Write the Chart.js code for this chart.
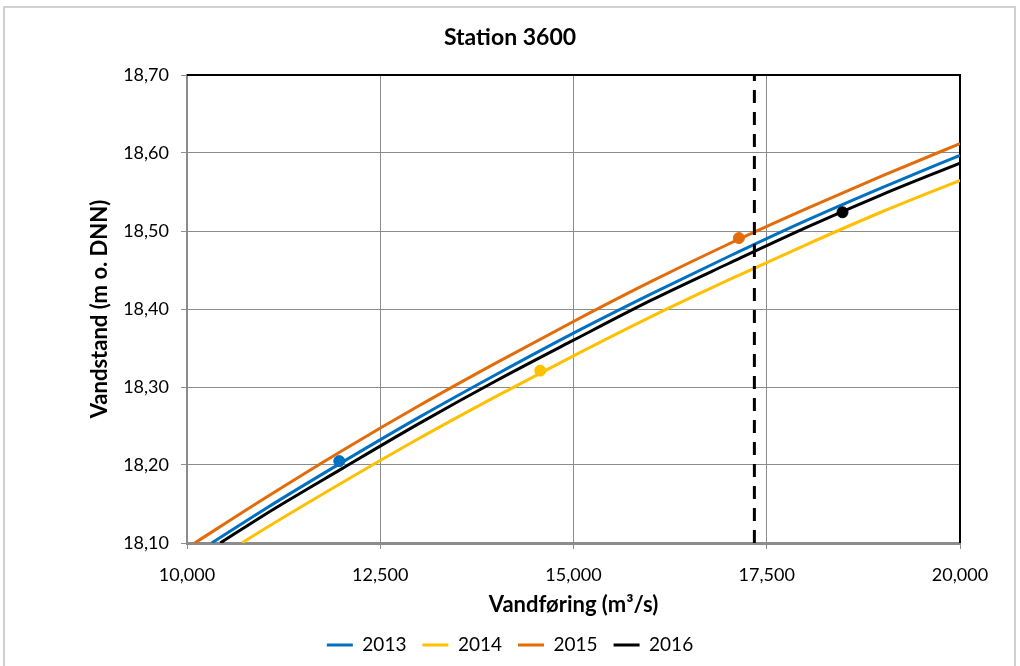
<!DOCTYPE html>
<html>
<head>
<meta charset="utf-8">
<script src="https://cdn.jsdelivr.net/npm/chart.js@4"></script>
<style>
  html, body { margin: 0; padding: 0; background: #fff; }
  #wrap { width: 1020px; height: 666px; }
</style>
</head>
<body>
<div id="wrap"><canvas id="chart" width="1020" height="666"></canvas></div>
<script>
// rating curves (discharge m3/s -> water level m o. DNN)
const q2013 = [10320, 11000, 12000, 13000, 14000, 15000, 16000, 17000, 18000, 19000, 20000];
const h2013 = [18.100, 18.143, 18.203, 18.261, 18.316, 18.369, 18.419, 18.467, 18.513, 18.556, 18.597];

const q2014 = [10710, 11000, 12000, 13000, 14000, 15000, 16000, 17000, 18000, 19000, 20000];
const h2014 = [18.100, 18.118, 18.177, 18.234, 18.288, 18.340, 18.390, 18.437, 18.482, 18.525, 18.565];

const q2015 = [10100, 11000, 12000, 13000, 14000, 15000, 16000, 17000, 18000, 19000, 20000];
const h2015 = [18.100, 18.157, 18.218, 18.276, 18.331, 18.384, 18.435, 18.483, 18.528, 18.571, 18.612];

const q2016 = [10430, 11000, 12000, 13000, 14000, 15000, 16000, 17000, 18000, 19000, 20000];
const h2016 = [18.100, 18.136, 18.195, 18.253, 18.308, 18.360, 18.411, 18.458, 18.504, 18.547, 18.587];

// single measurements per year
const years = ['2013', '2014', '2015', '2016'];
const markQ = [11970, 14570, 17140, 18480];
const markH = [18.205, 18.321, 18.491, 18.524];

// dashed reference discharge
const dashQ = 17340;
const dashH = [18.10, 18.70];

const colors = ['#0070C0', '#FFC000', '#E36C0A', '#000000'];
const FONT = 'Lato, "Open Sans", sans-serif';

const toPts = (qs, hs) => qs.map((q, i) => ({x: q, y: hs[i]}));
const curves = [[q2013, h2013], [q2014, h2014], [q2015, h2015], [q2016, h2016]];

let datasets = curves.map((c, i) => ({
  label: years[i],
  data: toPts(c[0], c[1]),
  showLine: true,
  borderColor: colors[i],
  backgroundColor: colors[i],
  borderWidth: 3,
  pointRadius: 0,
  pointStyle: 'line',
  cubicInterpolationMode: 'monotone',
  order: 2
}));

for (let i in markQ) {
  datasets.push({
    label: 'm' + years[i],
    data: [{x: markQ[i], y: markH[i]}],
    showLine: false,
    pointRadius: 5.5,
    pointBackgroundColor: colors[i],
    pointBorderColor: colors[i],
    order: -1
  });
}

datasets.push({
  label: 'dash',
  data: dashH.map(h => ({x: dashQ, y: h})),
  showLine: true,
  borderColor: '#000',
  borderWidth: 3,
  borderDash: [13, 9],
  pointRadius: 0,
  order: 1
});

// outer frame + black top/right edge of plot area
const frame = {
  id: 'frame',
  beforeDraw(chart) {
    const ctx = chart.ctx;
    ctx.save();
    ctx.strokeStyle = '#d0d0d0';
    ctx.lineWidth = 2;
    ctx.strokeRect(4, 7, 1011, 700);
    ctx.restore();
  },
  beforeDatasetsDraw(chart) {
    const a = chart.chartArea, ctx = chart.ctx;
    ctx.save();
    ctx.strokeStyle = '#000';
    ctx.lineWidth = 2;
    ctx.beginPath();
    ctx.moveTo(a.left, a.top);
    ctx.lineTo(a.right, a.top);
    ctx.lineTo(a.right, a.bottom);
    ctx.stroke();
    ctx.restore();
  }
};

let chart = new Chart(document.getElementById('chart').getContext('2d'), {
  type: 'scatter',
  data: { datasets: datasets },
  plugins: [frame],
  options: {
    responsive: false,
    animation: false,
    devicePixelRatio: 1,
    layout: { padding: { left: 0, right: 0, top: 0, bottom: 1.5 } },
    plugins: {
      tooltip: { enabled: false },
      title: {
        display: true,
        text: 'Station 3600',
        color: '#000',
        font: { family: FONT, size: 23, weight: 'bold', lineHeight: 1.2 },
        padding: { top: 24, bottom: 23.4 }
      },
      legend: {
        display: true,
        position: 'bottom',
        labels: {
          color: '#000',
          font: { family: FONT, size: 19 },
          usePointStyle: true,
          pointStyleWidth: 26,
          padding: 16,
          filter: item => years.includes(item.text)
        }
      }
    },
    scales: {
      x: {
        type: 'linear',
        min: 10000,
        max: 20000,
        afterFit: s => { s.height = 76.5; },
        ticks: {
          stepSize: 2500,
          color: '#000',
          padding: 15,
          font: { family: FONT, size: 18 },
          callback: v => v.toLocaleString('en-US')
        },
        grid: { color: '#8c8c8c', lineWidth: 1, tickLength: 6 },
        border: { color: '#8c8c8c', width: 3 },
        title: {
          display: true,
          text: 'Vandføring (m³/s)',
          color: '#000',
          font: { family: FONT, size: 22, weight: 'bold' },
          padding: { top: 0, bottom: 1.5 }
        }
      },
      y: {
        type: 'linear',
        min: 18.1,
        max: 18.7,
        afterFit: s => { s.width = 187; },
        ticks: {
          stepSize: 0.1,
          color: '#000',
          padding: 12,
          font: { family: FONT, size: 18 },
          callback: v => v.toFixed(2).replace('.', ',')
        },
        grid: { color: '#8c8c8c', lineWidth: 1, tickLength: 6 },
        border: { color: '#8c8c8c', width: 2 },
        title: {
          display: true,
          text: 'Vandstand (m o. DNN)',
          color: '#000',
          font: { family: FONT, size: 22, weight: 'bold' },
          padding: { top: 87, bottom: 0 }
        }
      },
      // empty right margin so the legend centres on the whole canvas
      gap: {
        type: 'linear',
        axis: 'y',
        position: 'right',
        afterFit: s => { s.width = 60; },
        ticks: { display: false },
        grid: { display: false },
        border: { display: false }
      }
    }
  }
});
</script>
</body>
</html>
